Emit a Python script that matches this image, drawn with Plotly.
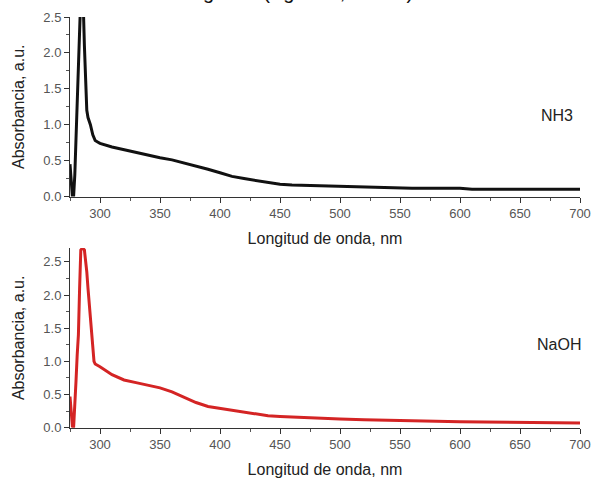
import plotly.graph_objects as go

# ---- data ----
nh3_x = [275, 276, 277, 278, 279, 280, 281, 282, 283, 284, 285, 286, 287, 288, 289, 290,
         292, 294, 296, 298, 300, 310, 320, 330, 340, 350, 360, 370, 380, 390, 400, 410,
         420, 430, 440, 450, 460, 470, 480, 490, 500, 510, 520, 530, 540, 550, 560, 580,
         600, 610, 620, 650, 680, 700]
nh3_y = [0.45, 0.15, 0.0, 0.0, 0.3, 0.8, 1.3, 1.8, 2.4, 2.8, 2.9, 2.7, 2.1, 1.6, 1.2, 1.1,
         1.0, 0.86, 0.78, 0.76, 0.74, 0.69, 0.65, 0.61, 0.58, 0.54, 0.51, 0.47, 0.43, 0.38,
         0.33, 0.28, 0.25, 0.22, 0.19, 0.17, 0.16, 0.155, 0.15, 0.148, 0.145, 0.14, 0.135,
         0.13, 0.125, 0.12, 0.115, 0.115, 0.115, 0.10, 0.10, 0.10, 0.10, 0.10]

naoh_x = [275, 276, 277, 278, 279, 280, 281, 282, 283, 284, 285, 286, 287, 288, 289, 290,
          292, 294, 295, 296, 300, 310, 320, 330, 340, 350, 360, 370, 380, 390, 400, 410,
          420, 430, 440, 450, 460, 470, 480, 490, 500, 520, 540, 560, 580, 600, 620, 650,
          680, 700]
naoh_y = [0.47, 0.2, 0.02, 0.0, 0.3, 0.7, 1.1, 1.4, 2.1, 2.68, 2.7, 2.7, 2.68, 2.55, 2.35,
          2.1, 1.6, 1.15, 1.0, 0.96, 0.92, 0.8, 0.72, 0.68, 0.64, 0.6, 0.54, 0.46, 0.38, 0.32,
          0.29, 0.26, 0.23, 0.2, 0.18, 0.17, 0.16, 0.15, 0.14, 0.135, 0.13, 0.12, 0.11, 0.1,
          0.095, 0.09, 0.085, 0.08, 0.075, 0.07]

x_ticks = [300, 350, 400, 450, 500, 550, 600, 650, 700]
y_ticks = [0.0, 0.5, 1.0, 1.5, 2.0, 2.5]
x_title = "Longitud de onda, nm"
y_title = "Absorbancia, a.u."
series_labels = ["NH3", "NaOH"]
caption = "de los sistemas investigados (Ag/NH3, NaOH)"

FONT = "Liberation Sans, Arial, sans-serif"

fig = go.Figure()
fig.add_trace(go.Scatter(x=nh3_x, y=nh3_y, mode="lines",
                         line=dict(color="#111111", width=3), xaxis="x", yaxis="y",
                         showlegend=False))
fig.add_trace(go.Scatter(x=naoh_x, y=naoh_y, mode="lines",
                         line=dict(color="#d42424", width=3), xaxis="x2", yaxis="y2",
                         showlegend=False))

tickfont = dict(family=FONT, size=13, color="#555555")
titlefont = dict(family=FONT, size=16, color="#222222")

# pixel layout
L, R, T, B = 70, 15, 17, 52
H = 480 - T - B

def ydom(px_bottom, px_top):
    return [(480 - B - px_bottom) / H, (480 - B - px_top) / H]

def xax(anchor):
    return dict(range=[275, 700], tickvals=x_ticks, ticks="outside", ticklen=5,
                tickcolor="#333", showline=True, linecolor="#333", linewidth=1,
                showgrid=False, zeroline=False, tickfont=tickfont, domain=[0, 1],
                anchor=anchor, automargin=False,
                minor=dict(dtick=25, tick0=275, ticks="outside", ticklen=3, tickcolor="#555"),
                title=dict(text=x_title, font=titlefont, standoff=12))

def yax(anchor, rng, dom):
    return dict(range=rng, tickvals=y_ticks, ticktext=["%.1f" % v for v in y_ticks],
                ticks="outside", ticklen=5, tickcolor="#333", showline=True,
                linecolor="#333", linewidth=1, showgrid=False, zeroline=False,
                tickfont=tickfont, domain=dom, anchor=anchor, automargin=False,
                minor=dict(dtick=0.25, tick0=0, ticks="outside", ticklen=3, tickcolor="#555"),
                title=dict(text=y_title, font=titlefont, standoff=14))

fig.update_layout(
    width=595, height=480,
    margin=dict(l=L, r=R, t=T, b=B),
    paper_bgcolor="white", plot_bgcolor="white",
    xaxis=xax("y"),
    yaxis=yax("x", [0, 2.5], ydom(196.5, 17)),
    xaxis2=xax("y2"),
    yaxis2=yax("x2", [0, 2.71], ydom(427.7, 248)),
    annotations=[
        dict(text=series_labels[0], x=696, y=1.13, xref="x", yref="y", showarrow=False,
             xanchor="right", font=dict(family=FONT, size=16, color="#222")),
        dict(text=series_labels[1], x=700, xshift=3, y=1.25, xref="x2", yref="y2",
             showarrow=False, xanchor="right",
             font=dict(family=FONT, size=16, color="#222")),
        dict(text=caption, x=(415 - L) / (595 - L - R), y=(480 - B - 5) / H,
             xref="paper", yref="paper", xanchor="right", yanchor="bottom", showarrow=False,
             font=dict(family=FONT, size=20, color="#111")),
    ],
)

fig.write_html("out.html", config={"displayModeBar": False},
               post_script="document.body.style.margin='0';document.body.style.overflow='hidden';")
